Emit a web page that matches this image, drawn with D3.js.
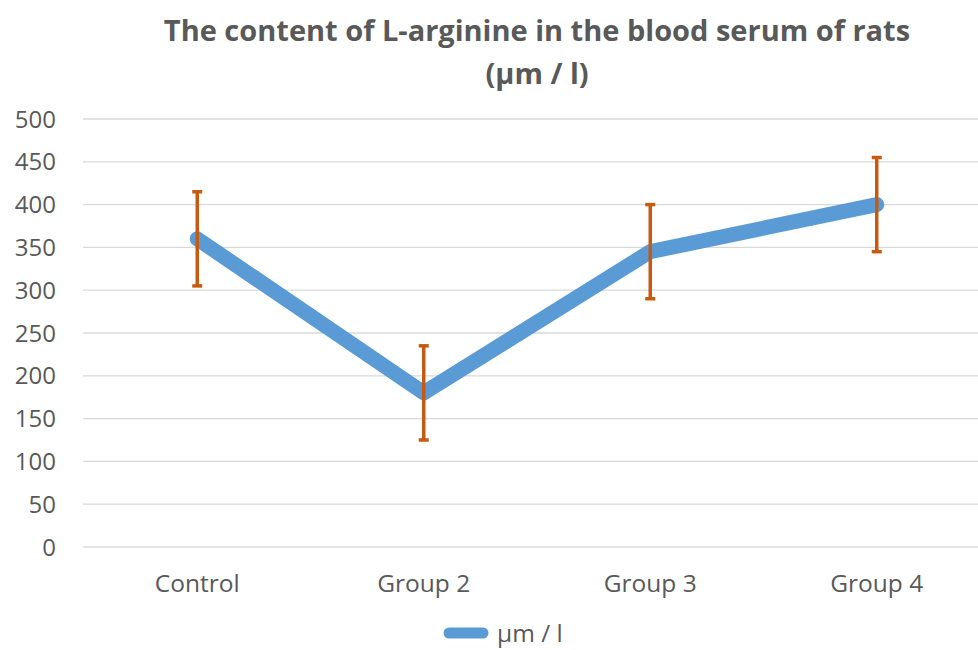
<!DOCTYPE html>
<html>
<head>
<meta charset="utf-8">
<script src="https://cdn.jsdelivr.net/npm/d3@7"></script>
<style>
  body { margin: 0; background: #fff; }
  text { font-family: "Open Sans", "Liberation Sans", sans-serif; fill: #595959; }
</style>
</head>
<body>
<div id="vis"></div>
<script>
// chart data
const categories = ["Control", "Group 2", "Group 3", "Group 4"]
const values = [360, 180, 345, 400]
const errors = [55, 55, 55, 55]
const yTicks = [0, 50, 100, 150, 200, 250, 300, 350, 400, 450, 500]
const titleLines = ["The content of L-arginine in the blood serum of rats", "(µm / l)"]
const seriesName = "µm / l"

const W = 978, H = 650
const margin = { left: 84, right: -12, top: 119, bottom: 103 }

const svg = d3.select("#vis").append("svg")
  .attr("width", W)
  .attr("height", H)

const x = d3.scaleBand()
  .domain(categories)
  .range([margin.left, W - margin.right])

const y = d3.scaleLinear()
  .domain([0, 500])
  .range([H - margin.bottom, margin.top])

// gridlines
svg.append("g")
  .selectAll("line")
  .data(yTicks)
  .enter()
  .append("line")
  .attr("x1", margin.left - 1)
  .attr("x2", W)
  .attr("y1", d => y(d))
  .attr("y2", d => y(d))
  .attr("stroke", "#d9d9d9")
  .attr("stroke-width", 1.3)

// y axis labels
svg.append("g")
  .selectAll("text")
  .data(yTicks)
  .enter()
  .append("text")
  .attr("x", 56)
  .attr("y", d => y(d))
  .attr("dy", "0.36em")
  .attr("text-anchor", "end")
  .style("font-size", "24px")
  .text(d => d)

// category labels
svg.append("g")
  .selectAll("text")
  .data(categories)
  .enter()
  .append("text")
  .attr("x", d => x(d) + x.bandwidth() / 2)
  .attr("y", 592)
  .attr("text-anchor", "middle")
  .style("font-size", "24.5px")
  .text(d => d)

const pts = categories.map((c, i) => ({ c: c, v: values[i], e: errors[i] }))
const cx = d => x(d.c) + x.bandwidth() / 2

// main line
svg.append("path")
  .datum(pts)
  .attr("fill", "none")
  .attr("stroke", "#5b9bd5")
  .attr("stroke-width", 15)
  .attr("stroke-linecap", "round")
  .attr("stroke-linejoin", "round")
  .attr("d", d3.line().x(cx).y(d => y(d.v)))

// error bars
const eb = svg.append("g")
  .attr("stroke", "#c55a11")
  .attr("stroke-width", 3.5)
eb.selectAll(".v")
  .data(pts)
  .enter()
  .append("line")
  .attr("x1", cx).attr("x2", cx)
  .attr("y1", d => y(d.v + d.e))
  .attr("y2", d => y(d.v - d.e))
eb.selectAll(".t")
  .data(pts.flatMap(d => [{ d: d, val: d.v + d.e }, { d: d, val: d.v - d.e }]))
  .enter()
  .append("line")
  .attr("x1", p => cx(p.d) - 5).attr("x2", p => cx(p.d) + 5)
  .attr("y1", p => y(p.val)).attr("y2", p => y(p.val))

// title
svg.append("g")
  .selectAll("text")
  .data(titleLines)
  .enter()
  .append("text")
  .attr("x", 537)
  .attr("y", (d, i) => 41 + i * 43)
  .attr("text-anchor", "middle")
  .style("font-size", "29px")
  .style("font-weight", "bold")
  .text(d => d)

// legend
svg.append("line")
  .attr("x1", 449).attr("x2", 483)
  .attr("y1", 633).attr("y2", 633)
  .attr("stroke", "#5b9bd5")
  .attr("stroke-width", 11)
  .attr("stroke-linecap", "round")
svg.append("text")
  .attr("x", 497)
  .attr("y", 642)
  .style("font-size", "24.5px")
  .text(seriesName)
</script>
</body>
</html>
